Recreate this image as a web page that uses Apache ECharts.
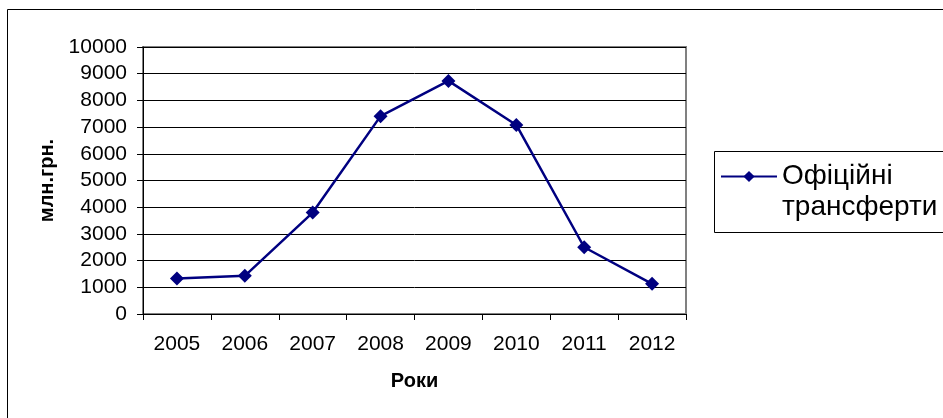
<!DOCTYPE html>
<html>
<head>
<meta charset="utf-8">
<script src="https://cdn.jsdelivr.net/npm/echarts@6/dist/echarts.min.js"></script>
<style>
html, body { margin: 0; padding: 0; background: #fff; }
#chart { width: 943px; height: 418px; }
</style>
</head>
<body>
<div id="chart"></div>
<script>
// Data
var years = ['2005', '2006', '2007', '2008', '2009', '2010', '2011', '2012'];
var transfers = [1330, 1430, 3800, 7410, 8730, 7080, 2500, 1130];
var seriesName = 'Офіційні трансферти';
var yMin = 0, yMax = 10000, yStep = 1000;

var font = '"Liberation Sans", Arial, sans-serif';
var chart = echarts.init(document.getElementById('chart'));

chart.setOption({
	backgroundColor: '#fff',
	animation: false,
	textStyle: { fontFamily: font, color: '#000' },
	graphic: [
		// outer chart frame
		{ type: 'rect', shape: { x: 7.5, y: 9.5, width: 1000, height: 500 },
		  style: { fill: 'none', stroke: '#000', lineWidth: 1 }, silent: true },
		// legend frame
		{ type: 'rect', shape: { x: 714.5, y: 151.5, width: 300, height: 81 },
		  style: { fill: 'none', stroke: '#000', lineWidth: 1 }, silent: true }
	],
	grid: {
		left: 143, top: 47, right: 257, bottom: 104,
		show: true, borderColor: '#808080', borderWidth: 2, backgroundColor: '#fff'
	},
	legend: {
		left: 720, top: 130, padding: 0,
		itemWidth: 56, itemHeight: 14,
		// leading empty line keeps the marker level with the first text line
		formatter: function (n) { return '\n' + n.replace(' ', '\n'); },
		textStyle: { fontFamily: font, fontSize: 28, lineHeight: 31, color: '#000' }
	},
	xAxis: {
		type: 'category',
		data: years,
		boundaryGap: true,
		name: 'Роки',
		nameLocation: 'middle',
		nameGap: 57,
		nameTextStyle: { fontFamily: font, fontSize: 20, fontWeight: 'bold', color: '#000' },
		axisLine: { lineStyle: { color: '#000', width: 1 } },
		axisTick: { show: true, length: 6, inside: false, lineStyle: { color: '#000' } },
		axisLabel: { fontFamily: font, fontSize: 21, color: '#000', margin: 20, interval: 0 },
		splitLine: { show: false }
	},
	yAxis: {
		type: 'value',
		min: yMin, max: yMax, interval: yStep,
		name: 'млн.грн.',
		nameLocation: 'middle',
		nameGap: 83,
		nameRotate: 90,
		nameTextStyle: { fontFamily: font, fontSize: 20, fontWeight: 'bold', color: '#000' },
		axisLine: { show: true, lineStyle: { color: '#000', width: 1 } },
		axisTick: { show: true, length: 6, inside: false, lineStyle: { color: '#000' } },
		axisLabel: { fontFamily: font, fontSize: 21, color: '#000', margin: 16,
			formatter: function (v) { return String(v); } },
		splitLine: { show: true, lineStyle: { color: '#000', width: 1 } }
	},
	series: [{
		name: seriesName,
		type: 'line',
		data: transfers,
		symbol: 'diamond',
		symbolSize: 14,
		lineStyle: { color: '#000080', width: 2.5 },
		itemStyle: { color: '#000080' }
	}]
});
</script>
</body>
</html>
